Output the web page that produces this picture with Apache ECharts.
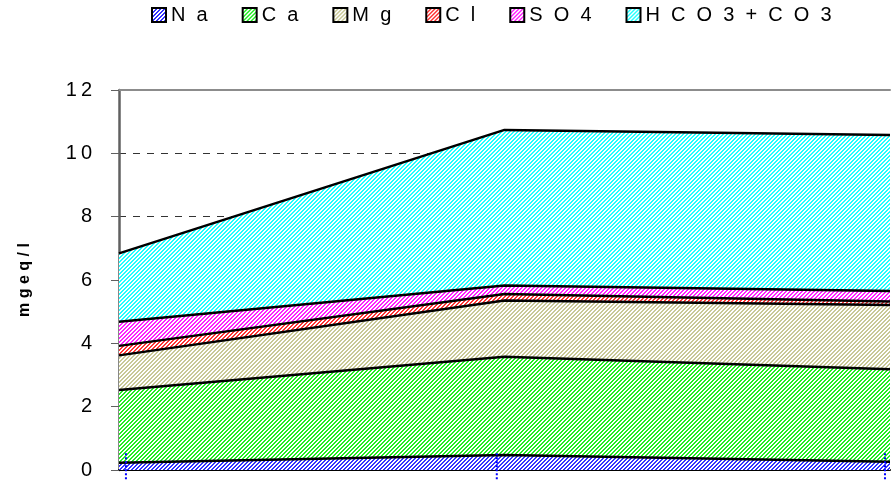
<!DOCTYPE html>
<html>
<head>
<meta charset="utf-8">
<script src="https://cdn.jsdelivr.net/npm/echarts@6/dist/echarts.min.js"></script>
<style>html,body{margin:0;padding:0;background:#fff}#c{width:891px;height:483px}</style>
</head>
<body>
<div id="c"></div>
<script>
const categories = ['1', '2', '3'];
const seriesNames = ['Na', 'Ca', 'Mg', 'Cl', 'SO4', 'HCO3+CO3'];
const Na = [0.23, 0.47, 0.26];
const Ca = [2.30, 3.11, 2.92];
const Mg = [1.09, 1.77, 2.03];
const Cl = [0.30, 0.21, 0.11];
const SO4 = [0.76, 0.27, 0.33];
const HCO3 = [2.16, 4.91, 4.93];
const yTicks = [0, 2, 4, 6, 8, 10, 12];
const yName = 'mgeq/l';
const dropX = [0.018, 0.98, 1.987];
const dropTop = 0.53;
const dropBottom = -0.33;

const colors = ['#3333ff', '#22ee22', '#c8c896', '#ff3333', '#ff22ff', '#22ffff'];
const values = [Na, Ca, Mg, Cl, SO4, HCO3];
const FONT = 'Arial, Liberation Sans, sans-serif';

function hatch(color) {
  const c = document.createElement('canvas');
  c.width = 4; c.height = 4;
  const g = c.getContext('2d');
  g.fillStyle = '#ffffff';
  g.fillRect(0, 0, 4, 4);
  g.fillStyle = color;
  for (let x = 0; x < 4; x++) for (let y = 0; y < 4; y++) {
    if (((x + y) % 4) < 2) g.fillRect(x, y, 1, 1);
  }
  return { image: c, repeat: 'repeat' };
}
const patterns = colors.map(hatch);

const chart = echarts.init(document.getElementById('c'), null, { renderer: 'canvas' });

const series = seriesNames.map((n, i) => ({
  name: n,
  type: 'line',
  stack: 'total',
  data: values[i],
  symbol: 'none',
  smooth: false,
  itemStyle: { color: patterns[i], borderColor: '#000' },
  lineStyle: { color: '#000', width: 2.5 },
  areaStyle: { color: patterns[i], opacity: 1 },
  emphasis: { disabled: true },
  z: 2
}));

series.push({
  name: 'drop',
  type: 'custom',
  xAxisIndex: 1,
  yAxisIndex: 0,
  data: dropX,
  z: 10,
  renderItem: function (params, api) {
    const x = api.value(0);
    const p1 = api.coord([x, dropTop]);
    const p2 = api.coord([x, dropBottom]);
    return {
      type: 'line',
      shape: { x1: p1[0], y1: p1[1], x2: p2[0], y2: p2[1] },
      style: { stroke: '#0000ff', lineWidth: 2, lineDash: [2, 2] }
    };
  },
  clip: false
});

chart.setOption({
  animation: false,
  backgroundColor: '#ffffff',
  textStyle: { fontFamily: FONT },
  legend: {
    top: 0,
    left: 146,
    itemWidth: 14,
    itemHeight: 14,
    itemGap: 34,
    icon: 'rect',
    data: seriesNames.map((n, i) => ({
      name: n,
      itemStyle: { color: patterns[i], borderColor: '#000', borderWidth: 2 }
    })),
    formatter: function (name) { return name.split('').join('  '); },
    textStyle: { fontSize: 20, color: '#000', fontFamily: FONT }
  },
  grid: { left: 119, right: 1, top: 90, bottom: 13, containLabel: false },
  xAxis: [
    {
      type: 'category',
      data: categories,
      boundaryGap: false,
      axisLine: { show: true, lineStyle: { color: '#000', width: 2 } },
      axisTick: { show: false },
      axisLabel: { show: false },
      splitLine: { show: false }
    },
    {
      type: 'value',
      min: 0,
      max: 2,
      position: 'top',
      axisLine: { show: true, onZero: false, lineStyle: { color: '#8c8c8c', width: 2 } },
      axisTick: { show: false },
      axisLabel: { show: false },
      splitLine: { show: false }
    }
  ],
  yAxis: {
    type: 'value',
    min: yTicks[0],
    max: yTicks[yTicks.length - 1],
    interval: 2,
    name: yName.split('').join(' '),
    nameLocation: 'middle',
    nameGap: 86,
    nameTextStyle: { fontSize: 16, fontWeight: 'bold', color: '#000', fontFamily: FONT },
    axisLine: { show: true, lineStyle: { color: '#606060', width: 2.5 } },
    axisTick: { show: true, length: 8, lineStyle: { color: '#606060', width: 1 } },
    axisLabel: {
      fontSize: 20, color: '#000', margin: 27, fontFamily: FONT,
      formatter: function (v) { return String(v).split('').join('\u2009'); }
    },
    splitLine: {
      show: true,
      lineStyle: { color: '#333', width: 1, type: [7, 7] }
    }
  },
  series: series
});
</script>
</body>
</html>
